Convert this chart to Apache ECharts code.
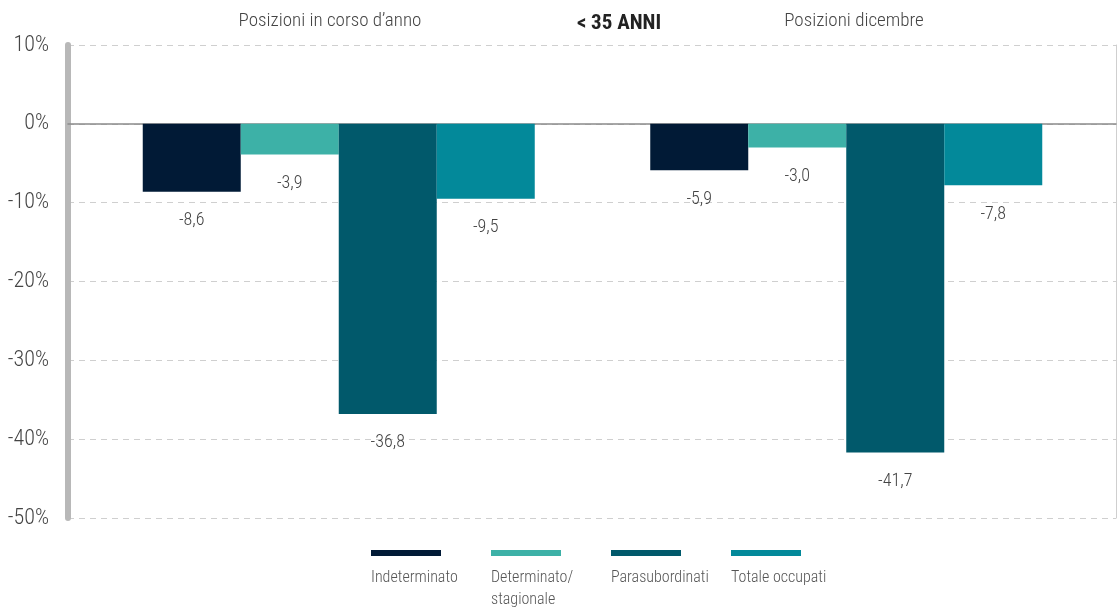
<!DOCTYPE html>
<html>
<head>
<meta charset="utf-8">
<script src="https://cdn.jsdelivr.net/npm/echarts@6/dist/echarts.min.js"></script>
<style>
	html, body { margin: 0; padding: 0; background: #fff; }
	#chart { width: 1117px; height: 612px; }
</style>
</head>
<body>
<div id="chart"></div>
<script>
var font = "'Roboto Condensed', 'Open Sans', sans-serif";

var categories = ['Posizioni in corso d\u2019anno', 'Posizioni dicembre'];
var seriesNames = ['Indeterminato', 'Determinato/ stagionale', 'Parasubordinati', 'Totale occupati'];
var seriesColors = ['#011a36', '#3db1a7', '#01596b', '#03899a'];
var indeterminato = [-8.6, -5.9];
var determinato = [-3.9, -3.0];
var parasubordinati = [-36.8, -41.7];
var totale = [-9.5, -7.8];
var yTicks = [-50, -40, -30, -20, -10, 0, 10];

var values = [indeterminato, determinato, parasubordinati, totale];

var chart = echarts.init(document.getElementById('chart'));

var series = seriesNames.map(function (name, i) {
	return {
		name: name,
		type: 'bar',
		xAxisIndex: 2,
		yAxisIndex: 2,
		barWidth: 98,
		barGap: '0%',
		itemStyle: {color: seriesColors[i]},
		label: {
			show: true,
			position: 'bottom',
			distance: 20,
			color: '#444',
			fontFamily: font,
			fontWeight: 300,
			fontSize: 18,
			formatter: function (p) {
				return p.value.toFixed(1).replace('.', ',');
			}
		},
		data: values[i]
	};
});

var option = {
	animation: false,
	textStyle: {fontFamily: font},
	title: {
		text: '< 35 ANNI',
		left: 614,
		textAlign: 'center',
		top: 8,
		textStyle: {fontFamily: font, fontSize: 21, fontWeight: 'bold', color: '#222'}
	},
	legend: [
		{
			left: 366,
			top: 545,
			itemWidth: 70,
			itemHeight: 6,
			itemGap: 50,
			icon: 'rect',
			selectedMode: false,
			formatter: function () { return ''; },
			data: seriesNames
		},
		{
			left: 361,
			top: 562,
			itemWidth: 0,
			itemHeight: 0,
			itemGap: 0,
			icon: 'rect',
			selectedMode: false,
			itemStyle: {opacity: 0},
			textStyle: {fontFamily: font, fontWeight: 300, fontSize: 16, color: '#555', width: 115, lineHeight: 22},
			formatter: function (name) {
				return name.indexOf('/ ') > 0 ? name.replace('/ ', '/\n') : name + '\n ';
			},
			data: seriesNames
		}
	],
	grid: [
		{left: 68, right: 1, top: 45, bottom: 94},
		{left: 85, right: 17, top: 45, bottom: 94}
	],
	xAxis: [
		{
			type: 'category',
			gridIndex: 0,
			data: categories,
			axisLine: {onZero: true, lineStyle: {color: '#8a8a8a', width: 1.5}},
			axisTick: {show: false},
			axisLabel: {show: false}
		},
		{
			type: 'category',
			gridIndex: 0,
			position: 'top',
			data: categories,
			axisLine: {show: false},
			axisTick: {show: false},
			axisLabel: {margin: 14, color: '#444', fontFamily: font, fontWeight: 300, fontSize: 19}
		},
		{
			type: 'category',
			gridIndex: 1,
			data: categories,
			show: false
		}
	],
	yAxis: [
		{
			type: 'value',
			gridIndex: 0,
			min: yTicks[0],
			max: yTicks[yTicks.length - 1],
			interval: 10,
			axisLine: {show: true, lineStyle: {color: '#b8b8b8', width: 6}},
			axisTick: {show: false},
			axisLabel: {margin: 19, color: '#444', fontFamily: font, fontWeight: 300, fontSize: 22, formatter: '{value}%'},
			splitLine: {lineStyle: {color: '#cfcfcf', type: [6, 5], width: 1}}
		},
		{
			type: 'value',
			gridIndex: 0,
			position: 'right',
			min: yTicks[0],
			max: yTicks[yTicks.length - 1],
			interval: 10,
			axisLine: {show: true, lineStyle: {color: '#cfcfcf', width: 1}},
			axisTick: {show: false},
			axisLabel: {show: false},
			splitLine: {show: false}
		},
		{
			type: 'value',
			gridIndex: 1,
			min: yTicks[0],
			max: yTicks[yTicks.length - 1],
			interval: 10,
			show: false,
			splitLine: {show: false}
		}
	],
	series: series
};

chart.setOption(option);
</script>
</body>
</html>
